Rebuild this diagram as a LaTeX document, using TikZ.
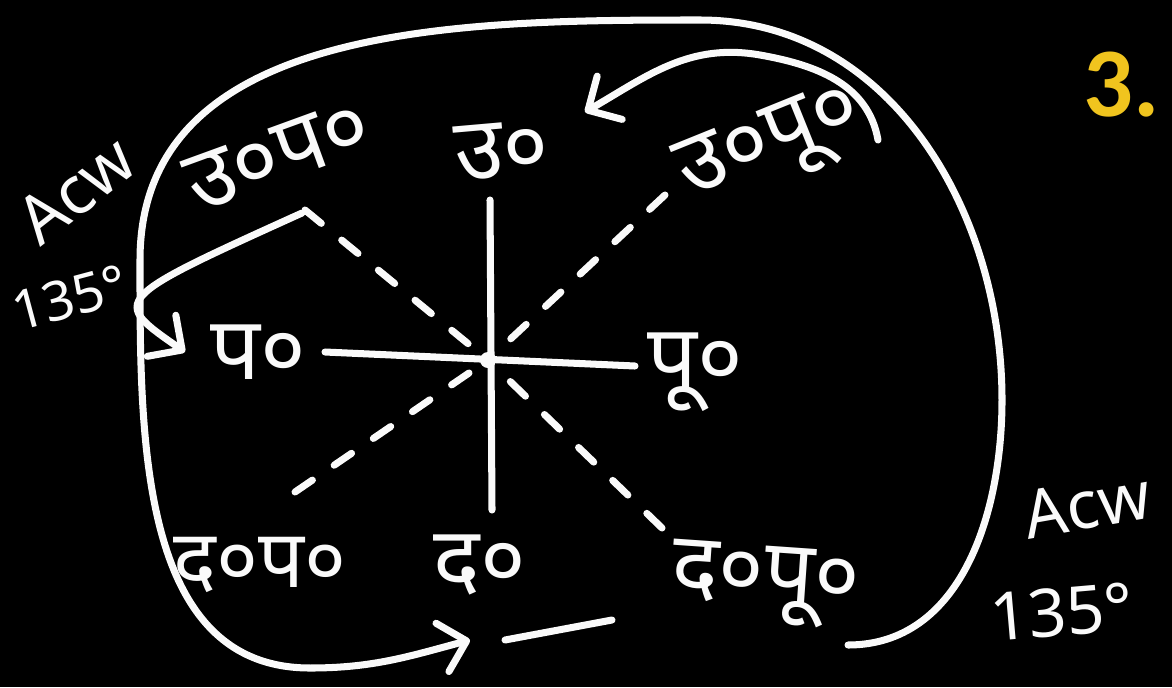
\documentclass[tikz,border=0pt]{standalone}
\usepackage{fontspec}
\setmainfont{Noto Sans}
\newfontfamily\deva[Script=Devanagari]{Noto Sans}
\newfontfamily\numfont{Carlito}
\usepackage{xcolor}
\usetikzlibrary{arrows.meta}
\definecolor{chalk}{RGB}{250,250,250}
\definecolor{gold}{RGB}{240,196,30}

\begin{document}
\begin{tikzpicture}[x=0.02cm, y=-0.02cm,
  lbl/.style={text=chalk, inner sep=0pt, font=\deva\fontsize{50}{54}\selectfont},
  note/.style={text=chalk, inner sep=0pt, font=\fontsize{38}{42}\selectfont},
  axis/.style={draw=chalk, line width=4pt, line cap=round},
  diag/.style={axis, dash pattern=on 12pt off 15pt},
  arr/.style={axis, -{Straight Barb[length=5mm,width=10mm,round]}}
]
  \useasboundingbox (0,0) rectangle (1172,687);
  \fill[black] (0,0) rectangle (1172,687);

  \node[lbl, rotate=5]   (north) at (502,150) {उ०};
  \node[lbl, rotate=22]  (neast) at (772,148) {उ०पू०};
  \node[lbl, rotate=20]  (nwest) at (278,155) {उ०प०};
  \node[lbl]             (west)  at (258,352) {प०};
  \node[lbl]             (east)  at (695,372) {पू०};
  \node[lbl, font=\deva\fontsize{46}{50}\selectfont] (swest) at (260,565) {द०प०};
  \node[lbl]             (south) at (480,565) {द०};
  \node[lbl, rotate=-4]  (seast) at (765,585) {द०पू०};

  \node[note, rotate=38] (acwL) at (76,190) {Acw};
  \node[note, rotate=15, font=\fontsize{31}{34}\selectfont] (degL) at (70,298) {135°};
  \node[note, rotate=10] (acwR) at (1087,505) {Acw};
  \node[note, rotate=5]  (degR) at (1062,612) {135°};
  \node[text=gold, font=\numfont\bfseries\fontsize{56}{60}\selectfont] (qno) at (1122,85) {3.};

  \coordinate (c)  at (488,360);
  \coordinate (n)  at (490,200);
  \coordinate (s)  at (492,510);
  \coordinate (w)  at (325,352);
  \coordinate (e)  at (635,366);
  \coordinate (nw) at (305,210);
  \coordinate (ne) at (665,195);
  \coordinate (sw) at (295,492);
  \coordinate (se) at (662,528);

  \draw[axis] (n) -- (s);
  \draw[axis] (w) -- (e);
  \draw[diag] (nw) -- (c);
  \draw[diag] (ne) -- (c);
  \draw[diag] (sw) -- (c);
  \draw[diag] (se) -- (c);
  \fill[chalk] (c) circle (8);

  \coordinate (loopA) at (848,645);
  \coordinate (loopB) at (470,640);
  \coordinate (hookA) at (878,140);
  \coordinate (hookB) at (585,112);
  \coordinate (bendA) at (302,213);
  \coordinate (bendB) at (185,352);
  \coordinate (tickA) at (505,640);
  \coordinate (tickB) at (612,620);

  \draw[arr] (loopA) to[out=0,in=-90] (1002,400) to[out=90,in=0] (700,20)
    to[out=180,in=90] (140,260) to[out=-90,in=180] (310,668) to[out=0,in=195] (loopB);
  \draw[arr] (hookA) to[out=100,in=-10] (760,55) to[out=170,in=30] (hookB);
  \draw[arr] (bendA) .. controls (110,300) .. (bendB);
  \draw[axis] (tickA) -- (tickB);
\end{tikzpicture}
\end{document}
